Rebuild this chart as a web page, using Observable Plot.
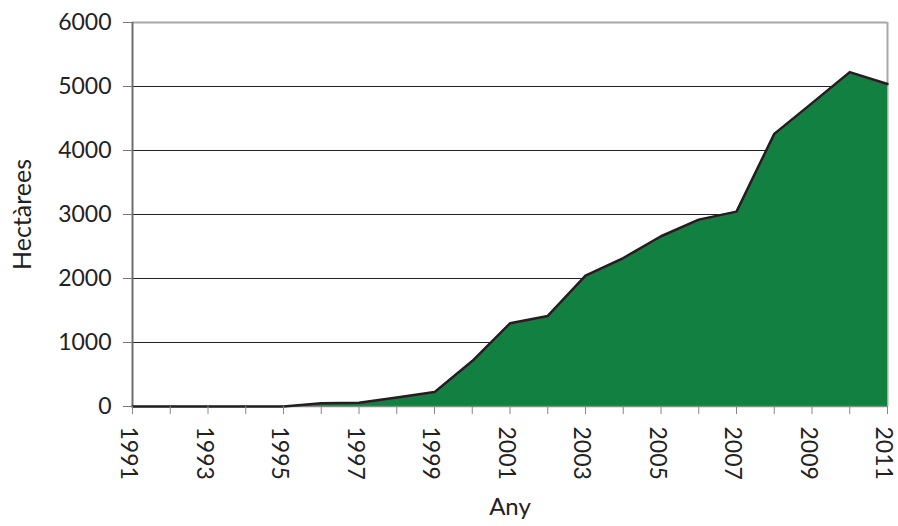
<!DOCTYPE html>
<html>
<head>
<meta charset="utf-8">
<script src="https://cdn.jsdelivr.net/npm/d3@7"></script>
<script src="https://cdn.jsdelivr.net/npm/@observablehq/plot@0.6"></script>
<style>
  html, body { margin: 0; padding: 0; background: white; }
</style>
</head>
<body>
<div id="chart"></div>
<script>
const years = [1991,1992,1993,1994,1995,1996,1997,1998,1999,2000,2001,2002,2003,2004,2005,2006,2007,2008,2009,2010,2011];
const hectares = [0,0,0,0,0,50,60,140,225,710,1300,1415,2045,2320,2660,2920,3045,4260,4740,5225,5040];
const yTicks = [0,1000,2000,3000,4000,5000,6000];
const gridValues = [1000,2000,3000,4000,5000];
const xLabelYears = [1991,1993,1995,1997,1999,2001,2003,2005,2007,2009,2011];
const yTitle = "Hectàrees";
const xTitle = "Any";

const data = years.map((year, i) => ({year, ha: hectares[i]}));

const chart = Plot.plot({
  width: 898,
  height: 526,
  marginLeft: 132,
  marginRight: 11,
  marginTop: 22,
  marginBottom: 120,
  style: {fontFamily: "Lato, 'Open Sans', sans-serif", fontSize: "23px", color: "#222", background: "white"},
  x: {type: "linear", domain: [1991, 2011]},
  y: {domain: [0, 6000]},
  marks: [
    Plot.ruleY(gridValues, {stroke: "#222", strokeWidth: 1}),
    Plot.ruleY([6000], {stroke: "#a8a8a8", strokeWidth: 2}),
    Plot.ruleX([2011], {stroke: "#a8a8a8", strokeWidth: 2}),
    Plot.areaY(data, {x: "year", y: "ha", fill: "#118040"}),
    Plot.ruleX([1991], {stroke: "#6e6e6e", strokeWidth: 2}),
    Plot.ruleY([0], {stroke: "#888", strokeWidth: 1.5}),
    Plot.lineY(data, {x: "year", y: "ha", stroke: "#231f20", strokeWidth: 2.5}),
    Plot.axisY({ticks: yTicks, tickSize: 9, tickPadding: 12, tickFormat: d => String(d), label: null, stroke: "#777", fontSize: 23}),
    Plot.axisX({ticks: years, tickSize: 8, tickFormat: () => "", label: null, stroke: "#888"}),
    Plot.axisX({ticks: xLabelYears, tickSize: 0, tickPadding: 20, tickRotate: 90, tickFormat: d => String(d), label: null, fontSize: 23, dx: -4}),
    Plot.text([yTitle], {frameAnchor: "left", rotate: -90, dx: -110, textAnchor: "middle", fontSize: 25, fill: "#222"}),
    Plot.text([xTitle], {frameAnchor: "bottom", dy: 108, textAnchor: "middle", fontSize: 24, fill: "#222"})
  ]
});
document.getElementById("chart").appendChild(chart);
</script>
</body>
</html>
